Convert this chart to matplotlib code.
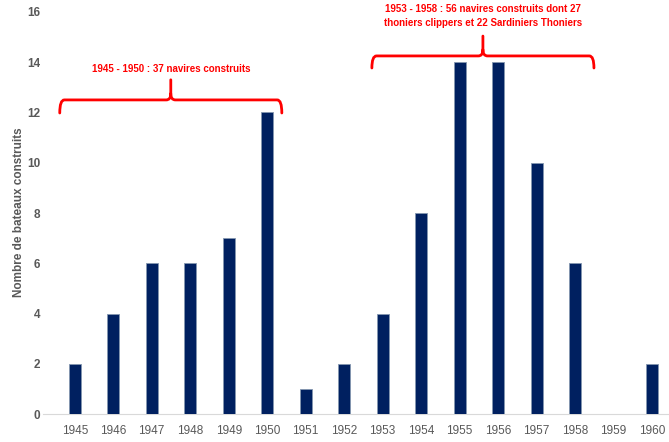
import matplotlib.pyplot as plt
from matplotlib.path import Path
from matplotlib.patches import PathPatch

years = ["1945", "1946", "1947", "1948", "1949", "1950", "1951", "1952",
         "1953", "1954", "1955", "1956", "1957", "1958", "1959", "1960"]
boats = [2, 4, 6, 6, 7, 12, 1, 2, 4, 8, 14, 14, 10, 6, 0, 2]

note_left = "1945 - 1950 : 37 navires construits"
note_right = "1953 - 1958 : 56 navires construits dont 27\nthoniers clippers et 22 Sardiniers Thoniers"

plt.rcParams["font.family"] = ["Liberation Sans", "DejaVu Sans"]

fig = plt.figure(figsize=(6.69, 4.42), dpi=100)
ax = fig.add_axes([0.064, 0.063, 0.936, 0.91])

x = list(range(len(years)))
ax.bar(x, boats, width=0.31, color="#002060", edgecolor="#8497b0", linewidth=0.6, zorder=3)

ax.set_xlim(-0.83, 15.44)
ax.set_ylim(0, 16)
ax.set_yticks(range(0, 17, 2))
ax.set_xticks(x)
ax.set_xticklabels(years)
ax.tick_params(axis="both", length=0, colors="#595959")
ax.tick_params(axis="x", labelsize=8.5, pad=8)
ax.tick_params(axis="y", labelsize=8.5, pad=2)
for lab in ax.get_yticklabels():
    lab.set_fontweight("bold")
for s in ["top", "right", "left"]:
    ax.spines[s].set_visible(False)
ax.spines["bottom"].set_color("#d9d9d9")
fig.text(0.028, 0.52, "Nombre de bateaux construits", fontsize=8.5, color="#595959",
         fontweight="bold", rotation=90, ha="center", va="center")


def brace(x0, x1, y_tip, y_mid, y_top, rx=0.12, ry=0.25):
    xc = (x0 + x1) / 2
    verts = [(x0, y_tip), (x0, y_mid), (x0 + rx, y_mid),
             (xc - rx, y_mid),
             (xc, y_mid), (xc, y_mid + ry),
             (xc, y_top), (xc, y_mid + ry),
             (xc, y_mid), (xc + rx, y_mid),
             (x1 - rx, y_mid),
             (x1, y_mid), (x1, y_tip)]
    codes = [Path.MOVETO, Path.CURVE3, Path.CURVE3,
             Path.LINETO,
             Path.CURVE3, Path.CURVE3,
             Path.LINETO, Path.MOVETO,
             Path.CURVE3, Path.CURVE3,
             Path.LINETO,
             Path.CURVE3, Path.CURVE3]
    ax.add_patch(PathPatch(Path(verts, codes), fill=False, edgecolor="#ff0000",
                           linewidth=2, capstyle="round", zorder=4))


brace(-0.39, 5.38, 11.98, 12.5, 13.3)
brace(7.72, 13.49, 13.77, 14.25, 15.04)

ax.text(2.5, 13.72, note_left, color="#ff0000", fontsize=7, fontweight="bold",
        ha="center", va="center")
ax.text(10.6, 15.85, note_right, color="#ff0000", fontsize=7, fontweight="bold",
        ha="center", va="center", linespacing=1.5)

fig.savefig("out.png", dpi=100)
